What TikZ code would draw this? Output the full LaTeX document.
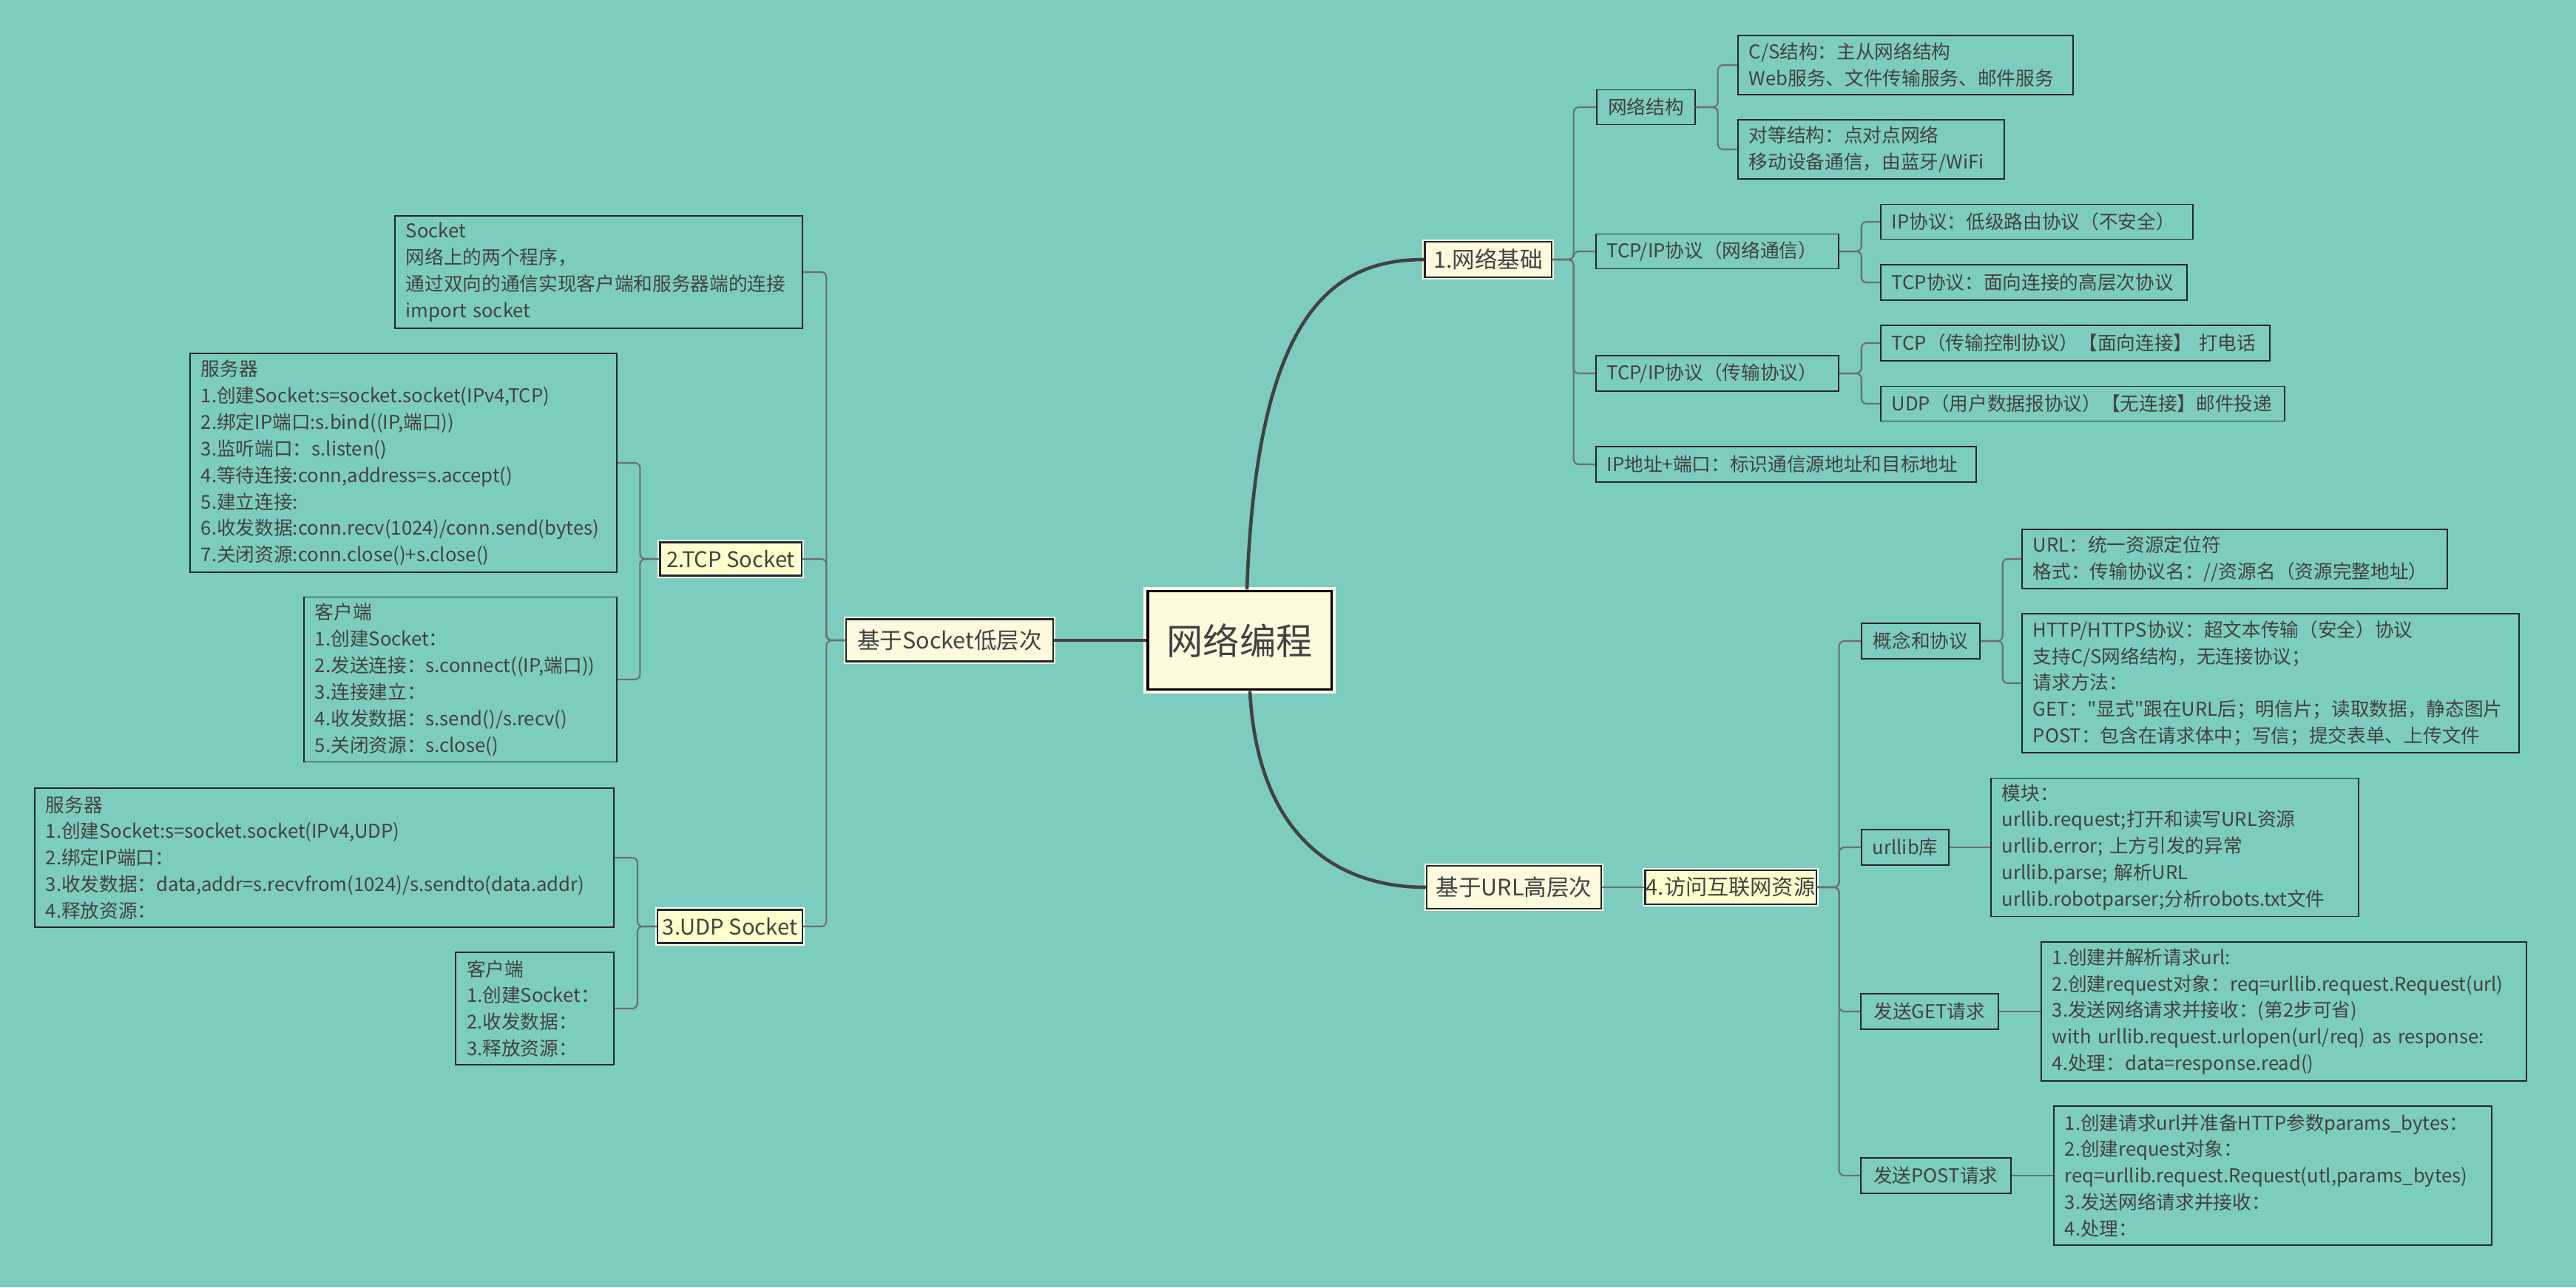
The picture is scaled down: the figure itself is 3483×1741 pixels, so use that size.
\documentclass[tikz,border=0pt]{standalone}
\usepackage{fontspec}
\setmainfont{Noto Sans CJK SC}[Ligatures=TeXOff]
\usetikzlibrary{positioning}
\definecolor{bg}{RGB}{125,204,192}
\definecolor{cream}{RGB}{255,249,222}
\definecolor{paleyel}{RGB}{255,255,204}
\definecolor{paleedge}{RGB}{255,255,232}
\definecolor{ink}{RGB}{66,66,66}
\definecolor{wire}{RGB}{105,112,110}
\definecolor{frame}{RGB}{34,40,38}

\tikzset{
  leaf/.style={draw=frame, line width=0.45pt, text=ink, align=left, inner xsep=0.15cm, inner ysep=0pt,
    font=\fontsize{7.3}{10.2}\selectfont},
  tag/.style={leaf, align=center},
  topic/.style={draw=cream, double=frame, double distance=0.6pt, line width=0.6pt, fill=cream,
    text=ink, inner sep=0pt, font=\fontsize{8.7}{10}\selectfont},
  subtopic/.style={topic, draw=paleedge, fill=paleyel, font=\fontsize{8.3}{10}\selectfont},
  hub/.style={topic, double=black, double distance=0.9pt, line width=1.2pt, font=\fontsize{14}{16}\selectfont},
  link/.style={draw=wire, line width=0.6pt, rounded corners=0.07cm},
  branch/.style={draw=ink, line width=1.3pt},
}

\begin{document}
\begin{tikzpicture}[x=0.01cm, y=-0.01cm]
    \fill[bg] (0,0) rectangle (3483,1741);
    \useasboundingbox (0,0) rectangle (3483,1741);

    % centre and first level
    \node[hub, minimum width=2.48cm, minimum height=1.33cm] (hub) at (1676,866) {网络编程};
    \node[topic, minimum width=2.79cm, minimum height=0.57cm] (lowsock) at (1284,866) {基于Socket低层次};
    \node[topic, minimum width=1.71cm, minimum height=0.48cm] (netbase) at (2012,351) {1.网络基础};
    \node[topic, minimum width=2.36cm, minimum height=0.58cm] (highurl) at (2047,1200) {基于URL高层次};

    \draw[branch] (lowsock.east) -- (hub.west);
    \draw[branch] ([xshift=0.1cm]hub.north) .. controls +(13,-374) and +(-124,0) .. (netbase.west);
    \draw[branch] ([xshift=0.14cm]hub.south) .. controls +(10,191) and +(-126,0) .. (highurl.west);

    % network basics
    \node[tag, anchor=west, text width=1.03cm, minimum height=0.47cm] (netstruct) at (2158,145) {网络结构};
    \node[leaf, anchor=west, text width=4.23cm, minimum height=0.80cm] (csmode) at (2349,88)
        {C/S结构：主从网络结构\\Web服务、文件传输服务、邮件服务};
    \node[leaf, anchor=west, text width=3.30cm, minimum height=0.80cm] (p2pmode) at (2349,202)
        {对等结构：点对点网络\\移动设备通信，由蓝牙/WiFi};
    \node[leaf, anchor=west, text width=2.98cm, minimum height=0.47cm] (tcpipnet) at (2157,340) {TCP/IP协议（网络通信）};
    \node[leaf, anchor=west, text width=3.92cm, minimum height=0.47cm] (ipproto) at (2542,300) {IP协议：低级路由协议（不安全）};
    \node[leaf, anchor=west, text width=3.84cm, minimum height=0.48cm] (tcpproto) at (2542,382) {TCP协议：面向连接的高层次协议};
    \node[leaf, anchor=west, text width=2.98cm, minimum height=0.48cm] (tcpiptrans) at (2157,505) {TCP/IP协议（传输协议）};
    \node[leaf, anchor=west, text width=4.96cm, minimum height=0.48cm] (tcpcall) at (2542,464) {TCP（传输控制协议）【面向连接】\ 打电话};
    \node[leaf, anchor=west, text width=5.16cm, minimum height=0.47cm] (udpmail) at (2542,546) {UDP（用户数据报协议）【无连接】邮件投递};
    \node[leaf, anchor=west, text width=4.84cm, minimum height=0.48cm] (ipport) at (2157,628) {IP地址+端口：标识通信源地址和目标地址};

    \draw[link] (netbase.east) -- ++(29,0) |- (netstruct.west);
    \draw[link] (netbase.east) -- ++(29,0) |- (tcpipnet.west);
    \draw[link] (netbase.east) -- ++(29,0) |- (tcpiptrans.west);
    \draw[link] (netbase.east) -- ++(29,0) |- (ipport.west);
    \draw[link] (netstruct.east) -- ++(30,0) |- (csmode.west);
    \draw[link] (netstruct.east) -- ++(30,0) |- (p2pmode.west);
    \draw[link] (tcpipnet.east) -- ++(30,0) |- (ipproto.west);
    \draw[link] (tcpipnet.east) -- ++(30,0) |- (tcpproto.west);
    \draw[link] (tcpiptrans.east) -- ++(30,0) |- (tcpcall.west);
    \draw[link] (tcpiptrans.east) -- ++(30,0) |- (udpmail.west);

    % url level
    \node[subtopic, minimum width=2.31cm, minimum height=0.46cm] (visitnet) at (2340,1200) {4.访问互联网资源};
    \node[tag, anchor=west, text width=1.30cm, minimum height=0.48cm] (concept) at (2516,867) {概念和协议};
    \node[leaf, anchor=west, text width=5.45cm, minimum height=0.80cm] (urlfmt) at (2733,756)
        {URL：统一资源定位符\\格式：传输协议名：//资源名（资源完整地址）};
    \node[leaf, anchor=west, text width=6.42cm, minimum height=1.88cm] (httpinfo) at (2733,924)
        {HTTP/HTTPS协议：超文本传输（安全）协议\\支持C/S网络结构，无连接协议；\\请求方法：\\
         GET："显式"跟在URL后；明信片；读取数据，静态图片\\POST：包含在请求体中；写信；提交表单、上传文件};
    \node[tag, anchor=west, text width=0.88cm, minimum height=0.48cm] (urllib) at (2516,1146) {urllib库};
    \node[leaf, anchor=west, text width=4.67cm, minimum height=1.87cm] (modules) at (2691,1146)
        {模块：\\urllib.request;打开和读写URL资源\\urllib.error; 上方引发的异常\\urllib.parse; 解析URL\\
         urllib.robotparser;分析robots.txt文件};
    \node[tag, anchor=west, text width=1.56cm, minimum height=0.48cm] (getreq) at (2515,1368) {发送GET请求};
    \node[leaf, anchor=west, text width=6.26cm, minimum height=1.88cm] (getsteps) at (2759,1368)
        {1.创建并解析请求url:\\2.创建request对象：req=urllib.request.Request(url)\\3.发送网络请求并接收：(第2步可省)\\
         with urllib.request.urlopen(url/req) as response:\\4.处理：data=response.read()};
    \node[tag, anchor=west, text width=1.73cm, minimum height=0.48cm] (postreq) at (2515,1590) {发送POST请求};
    \node[leaf, anchor=west, text width=5.62cm, minimum height=1.88cm] (poststeps) at (2776,1590)
        {1.创建请求url并准备HTTP参数params\_bytes：\\2.创建request对象：\\req=urllib.request.Request(utl,params\_bytes)\\
         3.发送网络请求并接收：\\4.处理：};

    \draw[link] (highurl.east) -- (visitnet.west);
    \draw[link] (visitnet.east) -- ++(30,0) |- (concept.west);
    \draw[link] (visitnet.east) -- ++(30,0) |- (urllib.west);
    \draw[link] (visitnet.east) -- ++(30,0) |- (getreq.west);
    \draw[link] (visitnet.east) -- ++(30,0) |- (postreq.west);
    \draw[link] (concept.east) -- ++(30,0) |- (urlfmt.west);
    \draw[link] (concept.east) -- ++(30,0) |- (httpinfo.west);
    \draw[link] (urllib.east) -- (modules.west);
    \draw[link] (getreq.east) -- (getsteps.west);
    \draw[link] (postreq.east) -- (poststeps.west);

    % socket level
    \node[subtopic, minimum width=1.91cm, minimum height=0.45cm] (tcpsock) at (988,756) {2.TCP Socket};
    \node[subtopic, minimum width=1.96cm, minimum height=0.45cm] (udpsock) at (987,1253) {3.UDP Socket};
    \node[leaf, anchor=east, text width=5.21cm, minimum height=1.52cm] (sockintro) at (1086,368)
        {Socket\\网络上的两个程序，\\通过双向的通信实现客户端和服务器端的连接\\import socket};
    \node[leaf, anchor=east, text width=5.47cm, minimum height=2.96cm] (tcpserver) at (835,626)
        {服务器\\1.创建Socket:s=socket.socket(IPv4,TCP)\\2.绑定IP端口:s.bind((IP,端口))\\3.监听端口：s.listen()\\
         4.等待连接:conn,address=s.accept()\\5.建立连接:\\6.收发数据:conn.recv(1024)/conn.send(bytes)\\
         7.关闭资源:conn.close()+s.close()};
    \node[leaf, anchor=east, text width=3.93cm, minimum height=2.23cm] (tcpclient) at (835,919)
        {客户端\\1.创建Socket：\\2.发送连接：s.connect((IP,端口))\\3.连接建立：\\4.收发数据：s.send()/s.recv()\\
         5.关闭资源：s.close()};
    \node[leaf, anchor=east, text width=7.53cm, minimum height=1.88cm] (udpserver) at (831,1160)
        {服务器\\1.创建Socket:s=socket.socket(IPv4,UDP)\\2.绑定IP端口：\\
         3.收发数据：data,addr=s.recvfrom(1024)/s.sendto(data.addr)\\4.释放资源：};
    \node[leaf, anchor=east, text width=1.84cm, minimum height=1.52cm] (udpclient) at (831,1364)
        {客户端\\1.创建Socket：\\2.收发数据：\\3.释放资源：};

    \draw[link] (lowsock.west) -- ++(-26,0) |- (sockintro.east);
    \draw[link] (lowsock.west) -- ++(-26,0) |- (tcpsock.east);
    \draw[link] (lowsock.west) -- ++(-26,0) |- (udpsock.east);
    \draw[link] (tcpsock.west) -- ++(-26,0) |- (tcpserver.east);
    \draw[link] (tcpsock.west) -- ++(-26,0) |- (tcpclient.east);
    \draw[link] (udpsock.west) -- ++(-26,0) |- (udpserver.east);
    \draw[link] (udpsock.west) -- ++(-26,0) |- (udpclient.east);
\end{tikzpicture}
\end{document}
